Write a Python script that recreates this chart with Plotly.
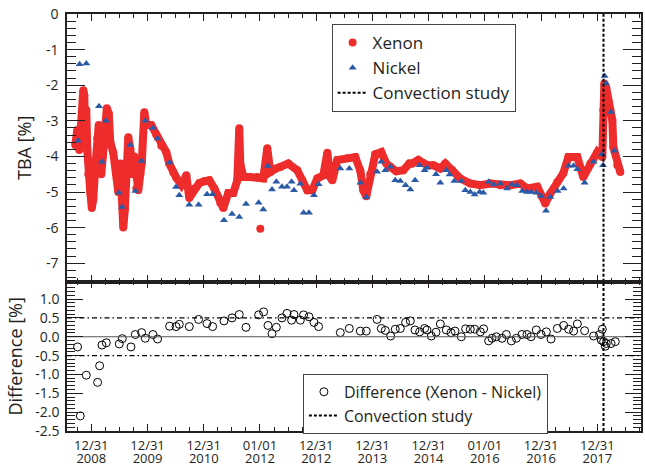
import plotly.graph_objects as go

# ---- data (x in decimal years; 2009.0 == 12/31/2008) ----
xenon_t = [2008.715, 2008.751, 2008.787, 2008.804, 2008.840, 2008.858, 2008.875, 2008.893,
           2008.911, 2008.929, 2008.947, 2008.982, 2009.009, 2009.036, 2009.071, 2009.107,
           2009.133, 2009.160, 2009.178, 2009.205, 2009.231, 2009.276, 2009.311, 2009.338,
           2009.391, 2009.445, 2009.480, 2009.516, 2009.543, 2009.569, 2009.596, 2009.623,
           2009.658, 2009.694, 2009.729, 2009.765, 2009.800, 2009.836, 2009.872, 2009.898,
           2009.943, 2009.978, 2010.067, 2010.156, 2010.245, 2010.334, 2010.387, 2010.459,
           2010.512, 2010.601, 2010.690, 2010.743, 2010.832, 2010.921, 2011.010, 2011.099,
           2011.188, 2011.295, 2011.348, 2011.437, 2011.526, 2011.597, 2011.632, 2011.650,
           2011.704, 2011.828, 2011.953, 2012.059, 2012.130, 2012.184, 2012.273, 2012.362,
           2012.504, 2012.664, 2012.753, 2012.842, 2012.931, 2013.020, 2013.127, 2013.198,
           2013.251, 2013.287, 2013.376, 2013.554, 2013.696, 2013.785, 2013.838, 2013.891,
           2013.962, 2014.052, 2014.158, 2014.247, 2014.318, 2014.425, 2014.549, 2014.656,
           2014.709, 2014.816, 2014.976, 2015.083, 2015.208, 2015.297, 2015.421, 2015.563,
           2015.741, 2015.919, 2016.097, 2016.275, 2016.453, 2016.631, 2016.755, 2016.933,
           2017.022, 2017.075, 2017.164, 2017.289, 2017.396, 2017.485, 2017.645, 2017.751,
           2017.876, 2018.000, 2018.089, 2018.107, 2018.125, 2018.160, 2018.196, 2018.231,
           2018.267, 2018.285, 2018.356, 2018.409]
xenon_v = [-3.68, -3.26, -3.82, -3.50, -3.00, -2.14, -2.28, -3.26,
           -2.70, -3.82, -4.50, -5.00, -5.45, -5.20, -4.30, -3.50,
           -3.12, -3.60, -4.50, -4.00, -3.20, -2.65, -2.80, -3.60,
           -3.90, -4.40, -5.00, -4.20, -5.20, -6.00, -5.50, -4.30,
           -3.46, -3.80, -4.50, -4.00, -4.90, -4.95, -4.50, -4.17,
           -2.76, -3.10, -3.12, -3.40, -3.70, -3.88, -4.20, -4.45,
           -4.60, -4.80, -4.53, -5.17, -4.90, -4.75, -4.70, -4.67,
           -4.90, -5.31, -5.45, -5.03, -5.03, -4.67, -3.21, -4.20,
           -4.58, -4.58, -4.58, -4.62, -3.77, -4.44, -4.35, -4.30,
           -4.20, -4.39, -4.67, -4.95, -4.95, -4.62, -4.53, -3.90,
           -4.58, -4.67, -4.10, -4.05, -4.02, -4.40, -4.95, -5.12,
           -4.50, -3.94, -3.88, -4.20, -4.29, -4.42, -4.39, -4.20,
           -4.20, -4.10, -4.25, -4.25, -4.34, -4.20, -4.39, -4.62,
           -4.76, -4.81, -4.76, -4.81, -4.81, -4.76, -4.90, -4.85,
           -5.14, -5.32, -5.04, -4.72, -4.47, -4.02, -4.02, -4.58,
           -4.20, -3.88, -4.02, -2.70, -1.95, -2.08, -2.42, -2.70,
           -2.98, -3.74, -4.25, -4.44]
xenon_outlier_t = [2012.006]
xenon_outlier_v = [-6.03]

nickel_t = [2008.763, 2008.792, 2008.911, 2009.137, 2009.190, 2009.261, 2009.493, 2009.546,
            2009.694, 2009.783, 2009.895, 2009.960, 2010.097, 2010.179, 2010.393, 2010.507,
            2010.565, 2010.743, 2010.909, 2011.058, 2011.158, 2011.360, 2011.503, 2011.632,
            2011.752, 2011.976, 2012.059, 2012.143, 2012.214, 2012.291, 2012.392, 2012.481,
            2012.563, 2012.605, 2012.718, 2012.776, 2012.872, 2012.961, 2013.043, 2013.429,
            2013.589, 2013.785, 2013.891, 2014.082, 2014.158, 2014.229, 2014.324, 2014.407,
            2014.496, 2014.590, 2014.674, 2014.758, 2014.840, 2014.928, 2014.971, 2015.131,
            2015.208, 2015.314, 2015.373, 2015.457, 2015.581, 2015.652, 2015.741, 2015.818,
            2015.907, 2015.973, 2016.067, 2016.156, 2016.275, 2016.394, 2016.483, 2016.572,
            2016.666, 2016.750, 2016.826, 2016.915, 2016.999, 2017.088, 2017.164, 2017.294,
            2017.401, 2017.490, 2017.579, 2017.645, 2017.774, 2017.934, 2018.084, 2018.102,
            2018.130, 2018.155, 2018.244, 2018.303]
nickel_v = [-3.56, -1.41, -1.39, -2.59, -4.15, -3.00, -5.02, -5.42,
            -3.68, -4.97, -4.13, -3.00, -3.20, -3.50, -4.17, -4.86,
            -5.09, -5.36, -5.36, -5.06, -5.06, -5.79, -5.62, -5.70,
            -5.34, -5.30, -5.49, -4.27, -4.93, -4.71, -4.85, -4.85,
            -4.71, -4.95, -4.77, -5.58, -5.58, -5.09, -4.78, -4.34,
            -4.34, -4.74, -5.15, -4.43, -4.15, -4.39, -4.29, -4.67,
            -4.69, -4.81, -4.93, -4.67, -4.25, -4.39, -4.32, -4.50,
            -4.74, -4.39, -4.51, -4.69, -4.69, -4.95, -5.00, -5.07,
            -5.00, -5.02, -4.71, -4.79, -4.76, -4.90, -4.79, -4.81,
            -4.97, -5.00, -5.00, -5.02, -5.11, -5.53, -5.14, -4.97,
            -4.90, -4.26, -4.26, -4.36, -4.74, -4.15, -3.94, -4.25,
            -1.74, -1.95, -2.75, -3.84]

diff_t = [2008.756, 2008.804, 2008.911, 2009.112, 2009.148, 2009.190, 2009.267, 2009.498,
          2009.551, 2009.706, 2009.783, 2009.895, 2009.960, 2010.097, 2010.179, 2010.393,
          2010.507, 2010.565, 2010.743, 2010.909, 2011.058, 2011.158, 2011.360, 2011.503,
          2011.632, 2011.752, 2011.976, 2012.065, 2012.143, 2012.214, 2012.291, 2012.392,
          2012.481, 2012.563, 2012.605, 2012.718, 2012.776, 2012.872, 2012.961, 2013.043,
          2013.429, 2013.589, 2013.785, 2013.891, 2014.082, 2014.158, 2014.229, 2014.324,
          2014.407, 2014.496, 2014.590, 2014.674, 2014.758, 2014.840, 2014.928, 2014.971,
          2015.048, 2015.131, 2015.208, 2015.314, 2015.398, 2015.469, 2015.581, 2015.658,
          2015.741, 2015.818, 2015.919, 2015.978, 2016.067, 2016.127, 2016.204, 2016.305,
          2016.382, 2016.471, 2016.560, 2016.661, 2016.750, 2016.821, 2016.915, 2016.999,
          2017.093, 2017.177, 2017.289, 2017.401, 2017.490, 2017.579, 2017.645, 2017.774,
          2017.934, 2018.041, 2018.071, 2018.089, 2018.112, 2018.143, 2018.160, 2018.244,
          2018.320]
diff_v = [-0.27, -2.10, -1.02, -1.21, -0.77, -0.22, -0.16, -0.19,
          -0.05, -0.27, 0.06, 0.11, -0.04, 0.06, -0.06, 0.28,
          0.27, 0.33, 0.27, 0.46, 0.35, 0.27, 0.42, 0.50,
          0.59, 0.25, 0.58, 0.66, 0.30, 0.08, 0.25, 0.50,
          0.62, 0.44, 0.59, 0.44, 0.58, 0.53, 0.38, 0.27,
          0.11, 0.22, 0.15, 0.15, 0.46, 0.22, 0.17, 0.02,
          0.20, 0.22, 0.38, 0.42, 0.18, 0.13, 0.22, 0.18,
          0.02, 0.12, 0.34, 0.18, 0.11, 0.15, 0.00, 0.21,
          0.20, 0.20, 0.13, 0.21, -0.11, -0.04, 0.00, -0.04,
          0.06, -0.11, -0.04, 0.06, 0.06, 0.00, 0.18, 0.06,
          0.13, -0.06, 0.22, 0.30, 0.20, 0.15, 0.34, 0.16,
          0.02, 0.06, -0.09, 0.20, -0.13, -0.25, -0.18, -0.18,
          -0.13]

convection_t = 2018.11
limit_band = 0.5

tick_vals = [2009, 2010, 2011, 2012, 2013, 2014, 2015, 2016, 2017, 2018]
tick_day = ["12/31", "12/31", "12/31", "01/01", "12/31", "12/31", "12/31", "01/01", "12/31", "12/31"]
tick_year = ["2008", "2009", "2010", "2012", "2012", "2013", "2014", "2016", "2016", "2017"]

top_ticks = [0, -1, -2, -3, -4, -5, -6, -7]
bot_ticks = [1.0, 0.5, 0.0, -0.5, -1.0, -1.5, -2.0, -2.5]

# ---- styling ----
X_RANGE = [2008.568, 2018.777]
TOP_RANGE = [-7.52, 0]
BOT_RANGE = [-2.5, 1.46]
RED = "#EE2C2C"
BLUE = "#2B5BA8"
AX = "#231F20"
FONT = "Open Sans"

fig = go.Figure()

fig.add_trace(go.Scatter(x=xenon_t, y=xenon_v, mode="lines+markers",
                         line=dict(color=RED, width=8), marker=dict(color=RED, size=8),
                         showlegend=False, xaxis="x", yaxis="y", hoverinfo="skip"))
fig.add_trace(go.Scatter(x=xenon_outlier_t, y=xenon_outlier_v, mode="markers",
                         marker=dict(color=RED, size=8), name="Xenon",
                         xaxis="x", yaxis="y", legend="legend"))
fig.add_trace(go.Scatter(x=nickel_t, y=nickel_v, mode="markers",
                         marker=dict(symbol="triangle-up", color=BLUE, size=7),
                         name="Nickel", xaxis="x", yaxis="y", legend="legend"))
fig.add_trace(go.Scatter(x=[convection_t, convection_t], y=TOP_RANGE, mode="lines",
                         line=dict(color="black", width=2, dash="3px,2px"),
                         name="Convection study", xaxis="x", yaxis="y", legend="legend"))

fig.add_trace(go.Scatter(x=X_RANGE, y=[0, 0], mode="lines",
                         line=dict(color="#555555", width=1), showlegend=False,
                         xaxis="x3", yaxis="y2", hoverinfo="skip"))
fig.add_trace(go.Scatter(x=diff_t, y=diff_v, mode="markers",
                         marker=dict(symbol="circle-open", color="black", size=8,
                                     line=dict(width=1, color="black")),
                         name="Difference (Xenon - Nickel)", xaxis="x2", yaxis="y2",
                         legend="legend2"))
fig.add_trace(go.Scatter(x=[convection_t, convection_t], y=BOT_RANGE, mode="lines",
                         line=dict(color="black", width=2, dash="3px,2px"),
                         name="Convection study", xaxis="x2", yaxis="y2", legend="legend2"))

for yv in (limit_band, -limit_band):
    fig.add_shape(type="line", xref="x2 domain", x0=0, x1=1, yref="y2", y0=yv, y1=yv,
                  line=dict(color="black", width=1.3, dash="5px,3px,1.5px,3px"))

axis_common = dict(showline=True, linecolor=AX, linewidth=1.5, mirror="ticks",
                   showgrid=False, zeroline=False, tickcolor=AX, tickwidth=1.2,
                   ticks="inside", automargin=False)

fig.update_layout(
    width=645, height=466,
    margin=dict(l=67, r=4, t=14, b=35),
    paper_bgcolor="white", plot_bgcolor="white",
    font=dict(family=FONT, color=AX, size=14),
    xaxis=dict(**axis_common, domain=[0, 1], anchor="y", range=X_RANGE,
               tickmode="array", tickvals=tick_vals, ticklen=7, showticklabels=False,
               minor=dict(dtick=0.25, tick0=2009, ticklen=4, ticks="inside",
                          tickcolor=AX, tickwidth=1)),
    yaxis=dict(**axis_common, domain=[0.358, 1], anchor="x", range=TOP_RANGE,
               tickmode="array", tickvals=top_ticks, ticktext=[str(v) for v in top_ticks],
               ticklen=18, ticklabelstandoff=4, tickfont=dict(size=14),
               minor=dict(dtick=0.2, tick0=0, ticklen=9, ticks="inside",
                          tickcolor=AX, tickwidth=1.2),
               title=dict(text="TBA [%]", font=dict(size=18), standoff=10)),
    xaxis2=dict(**axis_common, domain=[0, 1], anchor="y2", range=X_RANGE,
                tickmode="array", tickvals=tick_vals, ticktext=tick_day, ticklen=7,
                tickfont=dict(size=13), ticklabelstandoff=2,
                minor=dict(dtick=0.25, tick0=2009, ticklen=4, ticks="inside",
                           tickcolor=AX, tickwidth=1)),
    xaxis3=dict(overlaying="x2", anchor="y2", side="bottom", range=X_RANGE,
                tickmode="array", tickvals=tick_vals, ticktext=tick_year,
                showline=False, showgrid=False, zeroline=False, ticks="",
                automargin=False, tickfont=dict(size=13), ticklabelstandoff=18),
    yaxis2=dict(**axis_common, domain=[0, 0.358], anchor="x2", range=BOT_RANGE,
                tickmode="array", tickvals=bot_ticks,
                ticktext=[f"{v:.1f}" for v in bot_ticks],
                ticklen=16, ticklabelstandoff=3, tickfont=dict(size=14),
                minor=dict(dtick=0.1, tick0=0, ticklen=8, ticks="inside",
                           tickcolor=AX, tickwidth=1),
                title=dict(text="Difference [%]", font=dict(size=18), standoff=8)),
    legend=dict(x=0.461, y=0.976, xanchor="left", yanchor="top",
                bordercolor="#444444", borderwidth=1, bgcolor="white",
                font=dict(size=17), tracegroupgap=0, itemwidth=30),
    legend2=dict(x=0.411, y=0.137, xanchor="left", yanchor="top",
                 bordercolor="#444444", borderwidth=1, bgcolor="white",
                 font=dict(size=16), tracegroupgap=0, itemwidth=30),
)

fig.write_html("out.html")
